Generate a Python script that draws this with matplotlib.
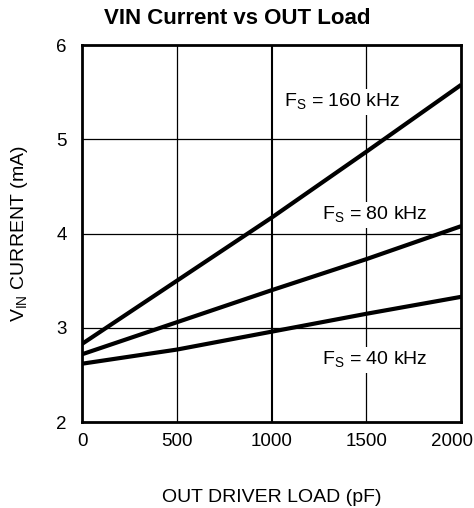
import numpy as np
import matplotlib.pyplot as plt
import matplotlib.transforms as mtransforms

plt.rcParams['font.family'] = ['Liberation Sans', 'DejaVu Sans']
plt.rcParams['mathtext.fontset'] = 'custom'
plt.rcParams['mathtext.rm'] = 'Liberation Sans'

# data
load_pf = [0, 500, 1000, 1500, 2000]
i_40k = [2.62, 2.77, 2.96, 3.15, 3.33]
i_80k = [2.72, 3.06, 3.40, 3.73, 4.08]
i_160k = [2.83, 3.50, 4.17, 4.87, 5.58]

fig = plt.figure(figsize=(4.74, 5.08), dpi=100)
ax = fig.add_axes([0.173, 0.169, 0.800, 0.742])

# grid
for x in [500, 1500]:
    ax.axvline(x, color='black', lw=0.9, zorder=1)
ax.axvline(1000, color='black', lw=1.5, zorder=1)
for y in [3, 4, 5]:
    ax.axhline(y, color='black', lw=0.9, zorder=1)

for vals in [i_160k, i_80k, i_40k]:
    ax.plot(load_pf, vals, color='black', lw=3, zorder=3, solid_capstyle='butt')

box = dict(facecolor='white', edgecolor='none', pad=2)
ax.text(1375, 5.4, r'F$_\mathregular{S}$ = 160 kHz', fontsize=14, ha='center', va='center', bbox=box, zorder=2)
ax.text(1545, 4.2, r'F$_\mathregular{S}$ = 80 kHz', fontsize=14, ha='center', va='center', bbox=box, zorder=2)
ax.text(1545, 2.66, r'F$_\mathregular{S}$ = 40 kHz', fontsize=14, ha='center', va='center', bbox=box, zorder=2)

ax.set_xlim(0, 2000)
ax.set_ylim(2, 6)
ax.set_xticks([0, 500, 1000, 1500, 2000])
ax.set_yticks([2, 3, 4, 5, 6])
ax.tick_params(length=0, labelsize=13.5)
ax.tick_params(axis='x', pad=8)
ax.tick_params(axis='y', pad=11)
for s in ax.spines.values():
    s.set_linewidth(2)

# last x label sits a bit left so it stays inside the figure
lbl = ax.get_xticklabels()[-1]
lbl.set_transform(lbl.get_transform() + mtransforms.ScaledTranslation(-0.09, 0, fig.dpi_scale_trans))

ax.set_xlabel('OUT DRIVER LOAD (pF)', fontsize=14, labelpad=28)
ax.set_ylabel(r'V$_\mathregular{IN}$ CURRENT (mA)', fontsize=14, labelpad=19)
fig.suptitle('VIN Current vs OUT Load', fontsize=16, fontweight='bold', x=0.5, y=0.985)

fig.savefig('out.png', dpi=100)
